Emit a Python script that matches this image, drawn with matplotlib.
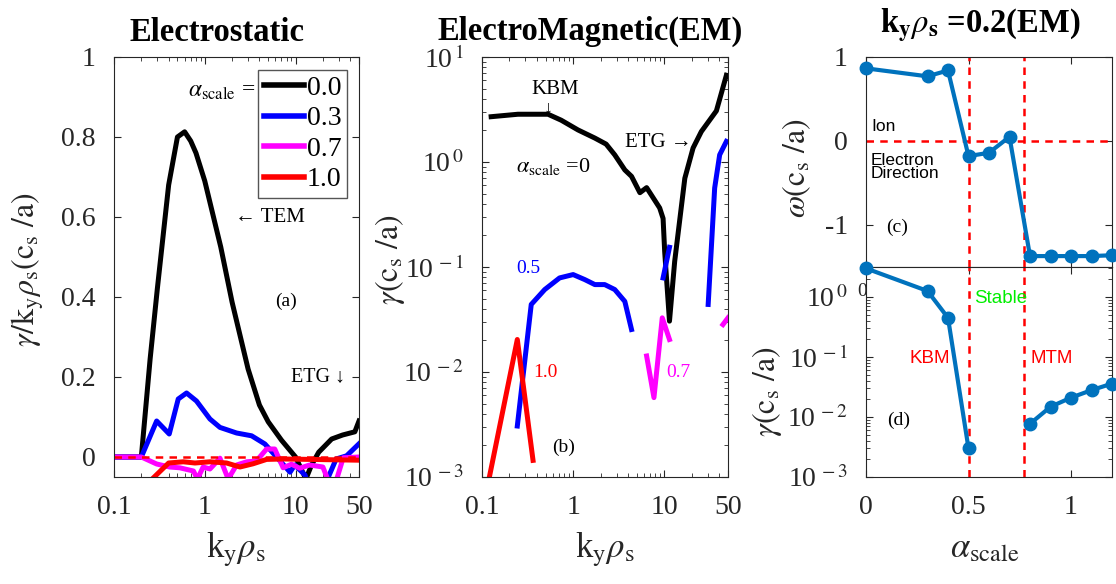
import matplotlib
matplotlib.use('Agg')
import matplotlib.pyplot as plt
import numpy as np
from matplotlib.ticker import FixedLocator, FixedFormatter, NullFormatter, LogLocator

plt.rcParams['font.family'] = ['Liberation Serif', 'DejaVu Serif']
plt.rcParams['mathtext.fontset'] = 'stix'

# ---------------- data ----------------
# (a) electrostatic gamma/(ky rho_s)
a_k_black = [0.1, 0.2, 0.25, 0.3, 0.4, 0.5, 0.6, 0.7, 0.8, 1.0, 1.5, 2.0, 3.0, 4.0, 5.0, 7.0, 10, 13, 15, 18, 25, 33, 45, 50]
a_v_black = [0, 0, 0.245, 0.42, 0.68, 0.80, 0.813, 0.79, 0.76, 0.69, 0.525, 0.387, 0.22, 0.13, 0.088, 0.042, 0.0, -0.055, -0.02, 0.012, 0.045, 0.055, 0.063, 0.09]
a_k_blue = [0.1, 0.2, 0.295, 0.406, 0.51, 0.63, 0.81, 1.14, 1.47, 2.24, 3.28, 4.6, 6.7, 8.7, 9.8, 12.7, 15, 20, 23, 28, 36.5, 50]
a_v_blue = [0, 0, 0.09, 0.0575, 0.145, 0.16, 0.14, 0.095, 0.074, 0.06, 0.053, 0.0325, -0.009, -0.038, -0.02, -0.045, -0.09, -0.09, -0.05, -0.005, 0.003, 0.033]
a_k_mag = [0.1, 0.2, 0.295, 0.41, 0.53, 0.75, 0.83, 0.96, 1.14, 1.47, 1.81, 2.24, 2.9, 3.7, 4.8, 5.9, 7.3, 9.0, 11.1, 14.3, 20, 23, 28, 33.5, 50]
a_v_mag = [0, 0, -0.0175, -0.025, -0.027, -0.035, -0.055, -0.025, -0.03, -0.003, -0.055, -0.02, -0.012, -0.01, 0.02, 0.02, -0.027, -0.018, -0.028, -0.02, -0.025, -0.06, -0.06, -0.002, 0.0]
a_k_red = [0.25, 0.40, 0.58, 0.78, 1.14, 1.74, 2.44, 3.4, 4.8, 7.3, 14.3, 50]
a_v_red = [-0.06, -0.015, -0.012, -0.015, -0.012, -0.015, -0.025, -0.017, -0.006, -0.005, -0.006, -0.008]
legend_labels = ['0.0', '0.3', '0.7', '1.0']

# (b) electromagnetic gamma
b_k_black = [0.126, 0.248, 0.53, 0.74, 1.13, 1.73, 2.3, 2.86, 3.69, 4.37, 5.4, 6.4, 8.9, 9.7, 10.1, 11.4, 13, 16.8, 20.7, 25.5, 37.3, 48]
b_v_black = [2.7, 2.85, 2.85, 2.5, 2.02, 1.69, 1.48, 1.17, 0.84, 0.73, 0.51, 0.57, 0.365, 0.29, 0.14, 0.0305, 0.113, 0.70, 1.36, 1.95, 3.07, 6.7]
b_k_blue = [0.244, 0.347, 0.488, 0.71, 1.0, 1.34, 1.73, 2.22, 2.86, 3.69, 4.37, np.nan, 9.7, 11.4, np.nan, 30.3, 35.7, 40.5, 48]
b_v_blue = [0.00306, 0.044, 0.061, 0.0787, 0.0847, 0.0759, 0.068, 0.068, 0.061, 0.047, 0.0254, np.nan, 0.0787, 0.154, np.nan, 0.044, 0.565, 1.17, 1.57]
b_k_mag = [6.4, 7.7, 9.5, 11.4, np.nan, 44, 50]
b_v_mag = [0.0142, 0.0057, 0.0328, 0.0204, np.nan, 0.0283, 0.0328]
b_k_red = [0.1, 0.244, 0.363]
b_v_red = [0.00045, 0.0204, 0.00144]

# (c),(d) ky rho_s = 0.2 scan
alpha = [0, 0.3, 0.4, 0.5, 0.6, 0.7, 0.8, 0.9, 1.0, 1.1, 1.2]
omega = [0.865, 0.77, 0.84, -0.18, -0.14, 0.05, -1.37, -1.37, -1.37, -1.37, -1.36]
gamma = [3.0, 1.26, 0.45, 0.003, np.nan, np.nan, 0.0077, 0.0148, 0.021, 0.028, 0.036]
boundaries = [0.5, 0.77]

# ---------------- figure ----------------
W, H = 1116, 584
fig = plt.figure(figsize=(W / 100, H / 100), dpi=100)
TC = '#262626'


def ax_px(l, t, r, b):
    return fig.add_axes([l / W, 1 - b / H, (r - l) / W, (b - t) / H])


def ftext(x, y, s, **kw):
    return fig.text(x / W, 1 - y / H, s, **kw)


def style(ax):
    ax.tick_params(which='both', direction='in', top=True, right=True,
                   colors=TC, labelsize=20)
    ax.tick_params(axis='x', which='both', pad=13)
    ax.tick_params(axis='y', which='both', pad=13)
    ax.tick_params(which='major', length=5)
    ax.tick_params(which='minor', length=3)
    for s in ax.spines.values():
        s.set_color(TC)
        s.set_linewidth(0.8)


LW = 3.6

# ---- (a)
axa = ax_px(114, 57, 359, 477)
axa.set_xscale('log')
la, = axa.plot(a_k_black, a_v_black, color='k', lw=LW)
lb, = axa.plot(a_k_blue, a_v_blue, color='#0000ff', lw=LW)
lm, = axa.plot(a_k_mag, a_v_mag, color='#ff00ff', lw=LW)
lr, = axa.plot(a_k_red, a_v_red, color='#ff0000', lw=LW)
axa.axhline(0, color='#ff0000', lw=1.8, ls=(0, (3, 2.5)))
axa.set_xlim(0.1, 50)
axa.set_ylim(-0.05, 1)
axa.xaxis.set_major_locator(FixedLocator([0.1, 1, 10, 50]))
axa.xaxis.set_major_formatter(FixedFormatter(['0.1', '1', '10', '50']))
axa.xaxis.set_minor_locator(LogLocator(base=10, subs=np.arange(2, 10)))
axa.xaxis.set_minor_formatter(NullFormatter())
axa.set_yticks([0, 0.2, 0.4, 0.6, 0.8, 1])
axa.set_yticklabels(['0', '0.2', '0.4', '0.6', '0.8', '1'])
style(axa)
leg = axa.legend([la, lb, lm, lr], legend_labels, loc='upper right',
                 bbox_to_anchor=(0.951, 0.969), borderaxespad=0, fontsize=20,
                 handlelength=1.45, handletextpad=0.1, labelspacing=0.18,
                 borderpad=0.2, fancybox=False, framealpha=1, edgecolor='#555555')
leg.get_frame().set_linewidth(1.0)
for h in leg.get_lines():
    h.set_linewidth(4)
ftext(255, 92, r'$\alpha_{\mathrm{scale}}$ =', ha='right', va='center', fontsize=17, color='k')
axa.text(2.15, 0.6, '\u2190 TEM', ha='left', va='center', fontsize=15)
axa.text(7.8, 0.39, '(a)', ha='center', va='center', fontsize=14)
axa.text(17.5, 0.2, 'ETG \u2193', ha='center', va='center', fontsize=14.5)

# ---- (b)
axb = ax_px(482, 57, 728, 477)
axb.set_xscale('log')
axb.set_yscale('log')
axb.plot(b_k_black, b_v_black, color='k', lw=LW)
axb.plot(b_k_blue, b_v_blue, color='#0000ff', lw=LW)
axb.plot(b_k_mag, b_v_mag, color='#ff00ff', lw=LW)
axb.plot(b_k_red, b_v_red, color='#ff0000', lw=LW)
axb.set_xlim(0.1, 50)
axb.set_ylim(1e-3, 1e1)
axb.xaxis.set_major_locator(FixedLocator([0.1, 1, 10, 50]))
axb.xaxis.set_major_formatter(FixedFormatter(['0.1', '1', '10', '50']))
axb.xaxis.set_minor_locator(LogLocator(base=10, subs=np.arange(2, 10)))
axb.xaxis.set_minor_formatter(NullFormatter())
axb.yaxis.set_major_locator(FixedLocator([1e-3, 1e-2, 1e-1, 1e0, 1e1]))
axb.yaxis.set_major_formatter(FixedFormatter([r'10$^{\,-3}$', r'10$^{\,-2}$', r'10$^{\,-1}$', r'10$^{\,0}$', r'10$^{\,1}$']))
axb.yaxis.set_minor_locator(LogLocator(base=10, subs=np.arange(2, 10)))
axb.yaxis.set_minor_formatter(NullFormatter())
style(axb)
axb.text(0.64, 4.85, 'KBM', ha='center', va='center', fontsize=15)
axb.text(0.53, 3.25, '\u2193', ha='center', va='center', fontsize=13)
axb.text(8.55, 1.52, 'ETG \u2192', ha='center', va='center', fontsize=15)
axb.text(0.6, 0.9, r'$\alpha_{\mathrm{scale}}$ =0', ha='center', va='center', fontsize=16)
axb.text(0.32, 0.0966, '0.5', color='#0000ff', ha='center', va='center', fontsize=14)
axb.text(0.5, 0.0099, '1.0', color='#ff0000', ha='center', va='center', fontsize=14)
axb.text(14.2, 0.0099, '0.7', color='#ff00ff', ha='center', va='center', fontsize=14)
axb.text(0.79, 0.0019, '(b)', ha='center', va='center', fontsize=14)

# ---- (c)
BL = '#0072BD'
axc = ax_px(866, 57, 1112, 267)
axc.plot(alpha, omega, color=BL, lw=3, marker='o', ms=9, clip_on=False, zorder=3)
axc.axhline(0, color='#ff0000', lw=1.8, ls=(0, (3, 2.5)))
for bx in boundaries:
    axc.axvline(bx, color='#ff0000', lw=1.8, ls=(0, (3, 2.5)))
axc.set_xlim(0, 1.2)
axc.set_ylim(-1.5, 1)
axc.set_xticks([0, 0.5, 1])
axc.set_xticklabels([])
axc.set_yticks([-1, 0, 1])
axc.set_yticklabels(['-1', '0', '1'])
style(axc)
axc.text(0.025, 0.17, 'Ion', family='Liberation Sans', fontsize=12.5, ha='left', va='center')
axc.text(0.023, -0.31, 'Electron\nDirection', family='Liberation Sans', fontsize=12.5,
         ha='left', va='center', linespacing=0.85)
axc.text(0.152, -1.03, '(c)', ha='center', va='center', fontsize=14)

# ---- (d)
axd = ax_px(866, 267, 1112, 477)
axd.set_yscale('log')
axd.plot(alpha, gamma, color=BL, lw=3, marker='o', ms=9, clip_on=False, zorder=3)
for bx in boundaries:
    axd.axvline(bx, color='#ff0000', lw=1.8, ls=(0, (3, 2.5)))
axd.set_xlim(0, 1.2)
axd.set_ylim(1e-3, 10 ** 0.5)
axd.set_xticks([0, 0.5, 1])
axd.set_xticklabels(['0', '0.5', '1'])
axd.yaxis.set_major_locator(FixedLocator([1e-3, 1e-2, 1e-1, 1e0]))
axd.yaxis.set_major_formatter(FixedFormatter([r'10$^{\,-3}$', r'10$^{\,-2}$', r'10$^{\,-1}$', r'10$^{\,0}$']))
axd.yaxis.set_minor_locator(LogLocator(base=10, subs=np.arange(2, 10)))
axd.yaxis.set_minor_formatter(NullFormatter())
style(axd)
axd.text(0.657, 0.95, 'Stable', color='#00ee00', family='Liberation Sans', fontsize=13.5, ha='center', va='center')
axd.text(0.309, 0.096, 'KBM', color='#ff0000', family='Liberation Sans', fontsize=13.5, ha='center', va='center')
axd.text(0.907, 0.096, 'MTM', color='#ff0000', family='Liberation Sans', fontsize=13.5, ha='center', va='center')
axd.text(0.157, 0.0089, '(d)', ha='center', va='center', fontsize=14)
ftext(862, 291, '0', fontsize=14, color=TC, ha='center', va='center')

# ---- titles and axis labels
ftext(217, 41, 'Electrostatic', fontsize=23.5, fontweight='bold', ha='center', va='baseline')
ftext(590, 40, 'ElectroMagnetic(EM)', fontsize=23.5, fontweight='bold', ha='center', va='baseline')
ftext(980, 33, r'k$_{\mathbf{y}}\rho_{\mathbf{s}}$ =0.2(EM)', fontsize=23.5, fontweight='bold',
      ha='center', va='baseline')

XL = r'k$_{\mathrm{y}}\rho_{\mathrm{s}}$'
ftext(236, 557, XL, fontsize=25, ha='center', va='baseline', color=TC)
ftext(605, 557, XL, fontsize=25, ha='center', va='baseline', color=TC)
ftext(985, 557, r'$\alpha_{\mathrm{scale}}$', fontsize=25, ha='center', va='baseline', color=TC)

ftext(28, 270, r'$\gamma/\mathrm{k}_{\mathrm{y}}\rho_{\mathrm{s}}(\mathrm{c}_{\mathrm{s}}\ /\mathrm{a})$',
      fontsize=23, rotation=90, ha='center', va='center', color=TC)
GL = r'$\gamma(\mathrm{c}_{\mathrm{s}}\ /\mathrm{a})$'
ftext(390, 260, GL, fontsize=23, rotation=90, ha='center', va='center', color=TC)
ftext(797, 168, r'$\omega(\mathrm{c}_{\mathrm{s}}\ /\mathrm{a})$', fontsize=23, rotation=90,
      ha='center', va='center', color=TC)
ftext(767, 392, GL, fontsize=23, rotation=90, ha='center', va='center', color=TC)

fig.savefig('out.png', dpi=100)
